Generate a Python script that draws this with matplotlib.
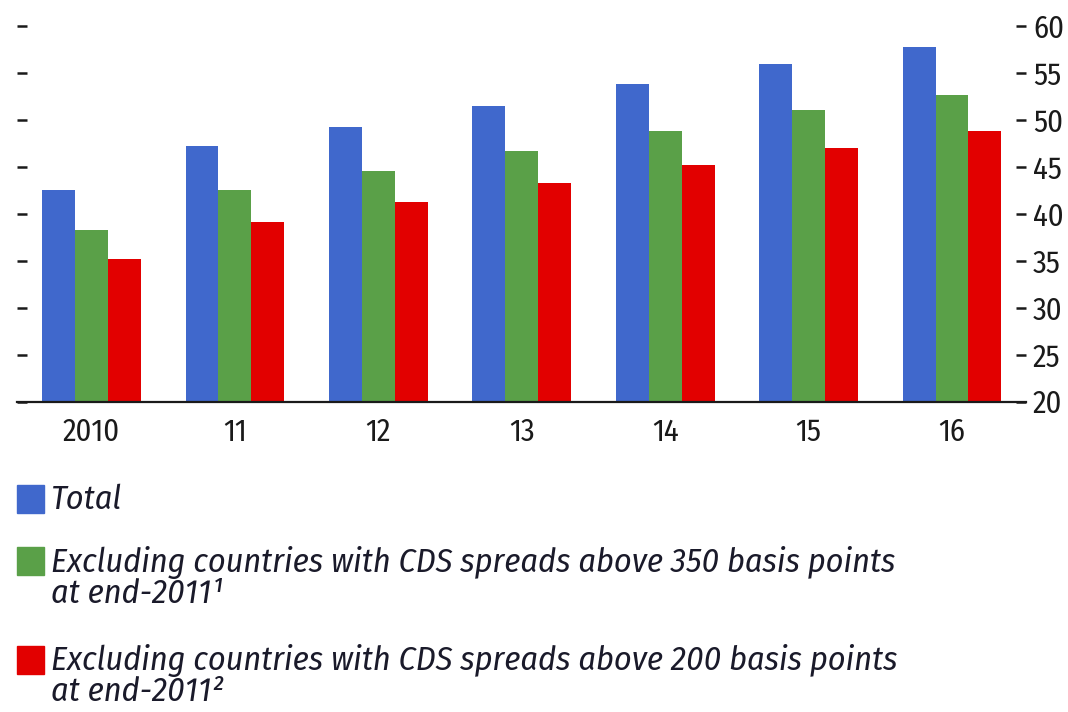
import matplotlib
matplotlib.use("Agg")
import matplotlib.pyplot as plt
from matplotlib.patches import Rectangle
import numpy as np

years = ["2010", "11", "12", "13", "14", "15", "16"]
total = [42.5, 47.2, 49.2, 51.5, 53.8, 56.0, 57.8]
excl_350 = [38.3, 42.5, 44.6, 46.7, 48.8, 51.0, 52.7]
excl_200 = [35.2, 39.1, 41.2, 43.3, 45.2, 47.0, 48.8]
legend_lines = [
    ["Total"],
    ["Excluding countries with CDS spreads above 350 basis points", "at end-2011\u00b9"],
    ["Excluding countries with CDS spreads above 200 basis points", "at end-2011\u00b2"],
]
colors = ["#4068CC", "#5AA048", "#E20000"]
yticks = [20, 25, 30, 35, 40, 45, 50, 55, 60]

plt.rcParams["font.family"] = ["Fira Sans Condensed", "Archivo Narrow", "Barlow Condensed", "DejaVu Sans"]
plt.rcParams["text.color"] = "#1a1a2a"
plt.rcParams["xtick.color"] = "#1a1a1a"
plt.rcParams["ytick.color"] = "#1a1a1a"

fig = plt.figure(figsize=(10.68, 7.12), dpi=100)
W, H = 1068, 712
ax = fig.add_axes([17 / W, 1 - 401.5 / H, 1009 / W, 375.5 / H])

x = np.arange(len(years))
bw = 0.23
for i, (vals, c) in enumerate(zip([total, excl_350, excl_200], colors)):
    ax.bar(x + (i - 1) * bw, np.array(vals) - 20, bottom=20, width=bw, color=c, zorder=2)

ax.set_xlim(-0.52, len(years) - 1 + 0.516)
ax.set_ylim(20, 60)
for s in ["top", "left", "right"]:
    ax.spines[s].set_visible(False)
ax.spines["bottom"].set_linewidth(1.6)
ax.spines["bottom"].set_color("#1a1a1a")
ax.spines["bottom"].set_zorder(3)

ax.set_xticks(x)
ax.set_xticklabels(years, fontsize=22)
ax.tick_params(axis="x", length=0, pad=11)

ax.set_yticks(yticks)
ax.yaxis.set_ticks_position("both")
ax.tick_params(axis="y", which="both", direction="in", length=7, width=1.8,
               left=True, right=True, labelleft=False, labelright=True,
               labelsize=22, pad=5)

# legend (manual layout, pixel positions from top)
squares = [485, 547, 646]
baselines = [[509], [572, 603], [670, 701]]
for sq, bls, lines, c in zip(squares, baselines, legend_lines, colors):
    fig.patches.append(Rectangle((17 / W, 1 - (sq + 28) / H), 27 / W, 28 / H,
                                 transform=fig.transFigure, color=c, figure=fig))
    for bl, line in zip(bls, lines):
        fig.text(51 / W, 1 - bl / H, line, fontsize=24.5, style="italic",
                 va="baseline", ha="left")

fig.savefig("out.png", dpi=100)
